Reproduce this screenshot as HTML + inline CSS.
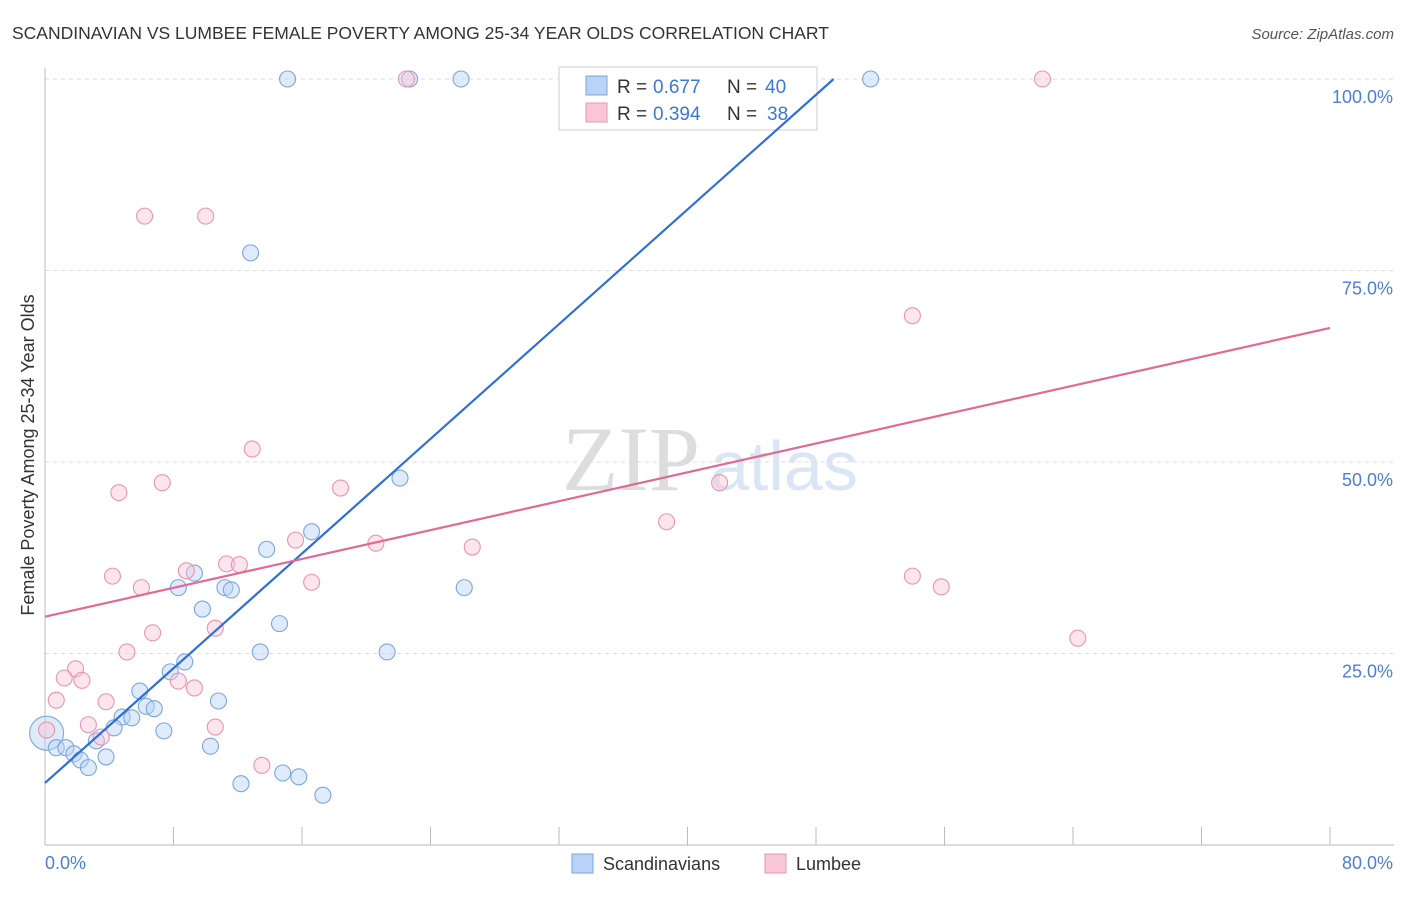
<!DOCTYPE html>
<html><head><meta charset="utf-8"><style>
body{margin:0;background:#fff;font-family:"Liberation Sans",sans-serif}
</style></head><body>
<svg id="c" width="1406" height="892" xmlns="http://www.w3.org/2000/svg">
<text x="12" y="39" font-size="17.5" fill="#333">SCANDINAVIAN VS LUMBEE FEMALE POVERTY AMONG 25-34 YEAR OLDS CORRELATION CHART</text>
<text x="1394" y="39" font-size="15" fill="#555" text-anchor="end" font-style="italic">Source: ZipAtlas.com</text>
<text x="700" y="490" font-size="92" fill="#ddd" text-anchor="end" font-family="Liberation Serif">ZIP</text>
<text x="710" y="490" font-size="70" fill="#dbe6f5">atlas</text>
<text transform="translate(34,455) rotate(-90)" font-size="18" fill="#333" text-anchor="middle">Female Poverty Among 25-34 Year Olds</text>
<g id="grid"></g><g id="pts"></g>
<g>
<rect x="559" y="67" width="258" height="63" fill="#fff" stroke="#ccc"/>
<rect x="586" y="76" width="21" height="19" fill="#b8d3f5" stroke="#7aa6e0"/>
<rect x="586" y="103" width="21" height="19" fill="#f9c6d6" stroke="#e895b0"/>
<text x="617" y="93" font-size="19" fill="#333">R =</text>
<text x="653" y="93" font-size="19" fill="#3a78d6">0.677</text>
<text x="727" y="93" font-size="19" fill="#333">N =</text>
<text x="765" y="93" font-size="19" fill="#3a78d6">40</text>
<text x="617" y="120" font-size="19" fill="#333">R =</text>
<text x="653" y="120" font-size="19" fill="#3a78d6">0.394</text>
<text x="727" y="120" font-size="19" fill="#333">N =</text>
<text x="767" y="120" font-size="19" fill="#3a78d6">38</text>
</g>
<g id="lines"></g>
<g>
<rect x="572" y="854" width="21" height="19" fill="#b8d3f5" stroke="#7aa6e0"/>
<text x="603" y="870" font-size="18" fill="#333">Scandinavians</text>
<rect x="765" y="854" width="21" height="19" fill="#f9c6d6" stroke="#e895b0"/>
<text x="796" y="870" font-size="18" fill="#333">Lumbee</text>
</g>
</svg>
<script>
const xTickLabels=["0.0%","80.0%"];
const yTicks=[25,50,75,100];
const yTickLabels=["25.0%","50.0%","75.0%","100.0%"];
const blueX=[15.1,22.7,25.9,51.4,12.8,22.1,16.6,13.8,9.3,8.3,11.2,11.6,26.1,9.8,14.6,13.4,21.3,8.7,7.8,5.9,10.8,6.3,6.8,4.8,5.4,4.3,7.4,0.1,3.2,10.3,0.7,1.3,1.8,2.2,3.8,2.7,14.8,15.8,12.2,17.3];
const blueY=[100,100,100,100,77.3,47.9,40.9,38.6,35.5,33.6,33.6,33.3,33.6,30.8,28.9,25.2,25.2,23.9,22.6,20.1,18.8,18.1,17.8,16.7,16.6,15.3,14.9,14.6,13.6,12.9,12.7,12.7,11.9,11.1,11.5,10.1,9.4,8.9,8.0,6.5];
const pinkX=[22.5,62.1,6.2,10.0,54.0,12.9,7.3,4.6,18.4,42.0,38.7,20.6,26.6,15.6,11.3,12.1,8.8,4.2,16.6,6.0,54.0,55.8,10.6,6.7,64.3,5.1,1.9,1.2,2.3,8.3,9.3,0.7,3.8,2.7,10.6,3.5,13.5,0.1];
const pinkY=[100,100,82.1,82.1,69.1,51.7,47.3,46.0,46.6,47.3,42.2,39.4,38.9,39.8,36.7,36.6,35.8,35.1,34.3,33.6,35.1,33.7,28.3,27.7,27.0,25.2,23.0,21.8,21.5,21.4,20.5,18.9,18.7,15.7,15.4,14.1,10.4,15.0];
const blueLine=[[0,8.1],[49.1,100]];
const pinkLine=[[0,29.8],[80,67.5]];
const X=v=>45+v*(1285/80), Y=v=>845-v*(766/100);
const NS="http://www.w3.org/2000/svg";
function mk(t,a,p){const e=document.createElementNS(NS,t);for(const k in a)e.setAttribute(k,a[k]);p.appendChild(e);return e;}
const g=document.getElementById('grid');
yTicks.forEach((t,i)=>{
 const l=mk('line',{x1:45,x2:1394,y1:Y(t),y2:Y(t),stroke:'#ddd','stroke-dasharray':'4,4'},g);
 
 
 const tx=mk('text',{x:1393,y:Y(t)+24,'font-size':18,fill:'#4a7fd4','text-anchor':'end'},g);
 tx.textContent=yTickLabels[i];
 
 
});
const ax=mk('line',{x1:45,x2:1394,y1:845,y2:845,stroke:'#bbb'},g);


const ay=mk('line',{x1:45,x2:45,y1:68,y2:845,stroke:'#bbb'},g);


for(let i=0;i<=10;i++){
 const t=mk('line',{x1:X(i*8),x2:X(i*8),y1:827,y2:845,stroke:'#bbb'},g);
 
 
}
[[0,'start',45],[1,'end',1393]].forEach(([i,a,x])=>{
 const tx=mk('text',{x:x,y:869,'font-size':18,fill:'#4a7fd4','text-anchor':a},g);
 tx.textContent=xTickLabels[i];
 
 
});
const p=document.getElementById('pts');
function pts(xs,ys,f,s,n){xs.forEach((x,i)=>{
 const c=mk('circle',{cx:X(x),cy:Y(ys[i]),r:(i==27&&n=='scandinavian')?17:8,fill:f,'fill-opacity':0.45,stroke:s,'stroke-width':1.1},p);
 
 
});}
pts(blueX,blueY,'#b8d3f5','#7aa6e0','scandinavian');
pts(pinkX,pinkY,'#f9c6d6','#e895b0','lumbee');
const L=document.getElementById('lines');
const bl=mk('line',{x1:X(blueLine[0][0]),y1:Y(blueLine[0][1]),x2:X(blueLine[1][0]),y2:Y(blueLine[1][1]),stroke:'#2f6fd6','stroke-width':2.2},L);


const pl=mk('line',{x1:X(pinkLine[0][0]),y1:Y(pinkLine[0][1]),x2:X(pinkLine[1][0]),y2:Y(pinkLine[1][1]),stroke:'#e06a95','stroke-width':2.2},L);


</script>
</body></html>
